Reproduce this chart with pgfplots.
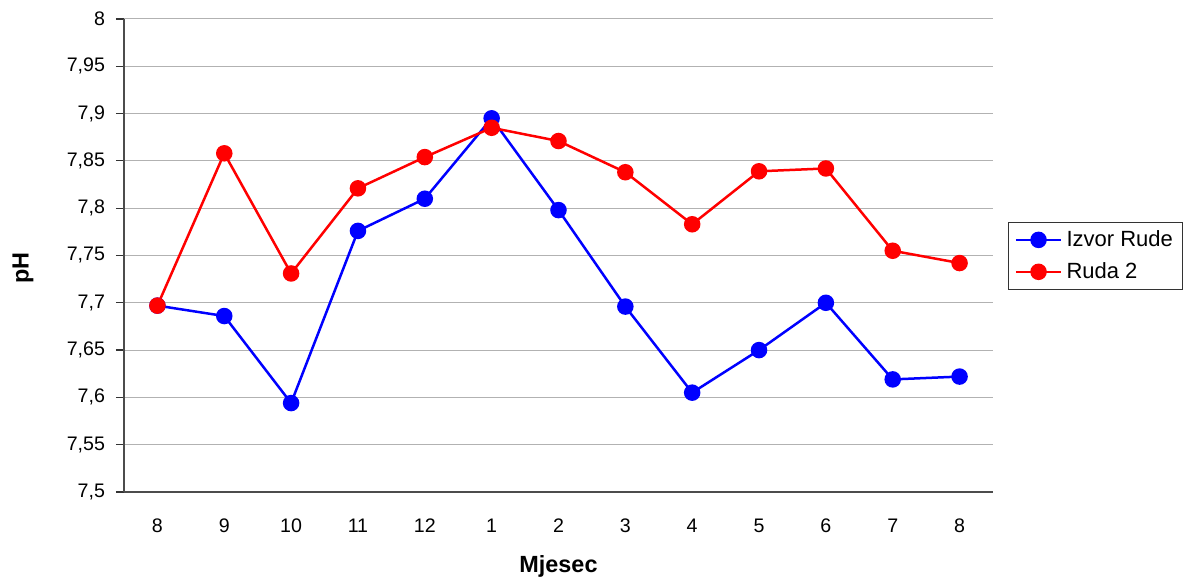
\documentclass[border=0pt]{standalone}
\usepackage{pgfplots}
\pgfplotsset{compat=1.18}
\usepackage{fontspec}
\setmainfont{Liberation Sans}

\pgfplotstableread{
x izvor ruda
0  7.697 7.697
1  7.686 7.858
2  7.594 7.731
3  7.776 7.821
4  7.810 7.854
5  7.895 7.885
6  7.798 7.871
7  7.696 7.838
8  7.605 7.783
9  7.650 7.839
10 7.700 7.842
11 7.619 7.755
12 7.622 7.742
}\phdata

\begin{document}
\begin{tikzpicture}
\useasboundingbox (-62pt,-44.5pt) rectangle (533.5pt,246pt);
\begin{axis}[
    at={(0pt,0pt)}, anchor=south west,
    scale only axis,
    width=434.5pt, height=236.5pt,
    xmin=-0.5, xmax=12.5,
    ymin=7.5, ymax=8,
    axis x line*=bottom, axis y line*=left,
    axis line style={black!70, line width=0.8pt},
    xtick={0,...,12},
    xticklabels={8,9,10,11,12,1,2,3,4,5,6,7,8},
    minor xtick={-0.5,0.5,...,12.5},
    xtick style={draw=none},
    minor x tick style={black!80, line width=0.6pt},
    ytick={7.5,7.55,...,8.01},
    y tick style={black!80, line width=0.6pt},
    tick align=outside,
    major tick length=4pt, minor tick length=4pt,
    ymajorgrids,
    major grid style={black!30, line width=0.5pt},
    /pgf/number format/use comma,
    /pgf/number format/precision=2,
    /pgf/number format/assume math mode=true,
    ticklabel style={font=\fontsize{9.8pt}{11pt}\selectfont},
    xticklabel style={yshift=-6pt},
    yticklabel style={xshift=-2pt},
    xlabel={\textbf{Mjesec}},
    ylabel={\textbf{pH}},
    label style={font=\fontsize{11.7pt}{13pt}\selectfont},
    xlabel style={at={(axis description cs:0.5,-0.1564)}, anchor=center},
    ylabel style={at={(axis description cs:-0.1162,0.4736)}, anchor=center},
    legend style={at={(axis description cs:1.0173,0.571)}, anchor=north west,
        draw=black!80, line width=0.5pt, font=\fontsize{11pt}{13pt}\selectfont,
        inner xsep=3pt, inner ysep=2pt, row sep=2.5pt, cells={anchor=west}},
    legend image code/.code={
        \draw[#1, mark=none] (0cm,0cm) -- (0.8cm,0cm);
        \draw[#1, only marks] plot coordinates {(0.4cm,0cm)};
    },
    every axis plot/.append style={line width=1.25pt, mark=*, mark size=3.5pt},
    clip=false,
]
\addplot[blue, mark options={fill=blue, draw=blue}] table[x=x, y=izvor] {\phdata};
\addlegendentry{Izvor Rude}
\addplot[red, mark options={fill=red, draw=red}] table[x=x, y=ruda] {\phdata};
\addlegendentry{Ruda 2}
\end{axis}
\end{tikzpicture}
\end{document}
